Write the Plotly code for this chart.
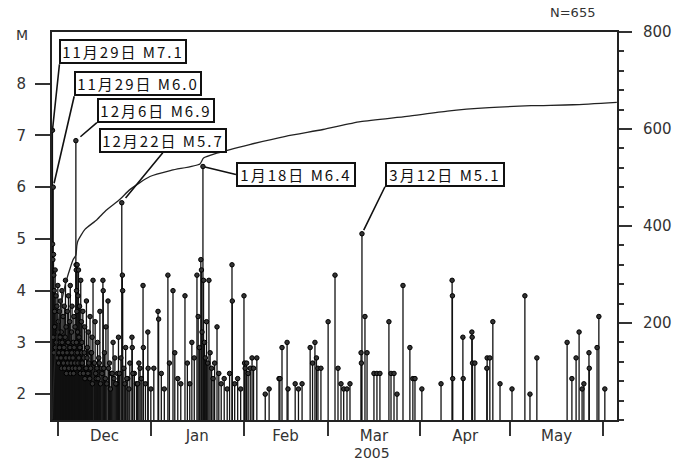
import plotly.graph_objects as go
import pandas as pd

START = pd.Timestamp("2004-11-29")

# Events: days after 2004-11-29 00:00 and magnitude
event_day = [
    0.15, 0.40, 0.20, 0.28, 0.50, 0.60, 0.75, 0.90, 1.05, 1.20, 1.35, 1.50, 1.65, 1.80, 1.95,
    2.10, 2.30, 2.45, 2.60, 2.80, 2.95, 3.10, 3.30, 3.50, 3.70, 3.90, 4.10, 4.30, 4.50, 4.70,
    4.90, 5.10, 5.30, 5.50, 5.70, 5.90, 6.10, 6.30, 6.50, 6.70, 6.90, 7.10, 7.30, 7.50, 7.70,
    7.97, 8.05, 8.10, 8.20, 8.30, 8.40, 8.55, 8.70, 8.85, 9.00, 9.20, 9.40, 9.60, 9.80, 10.0,
    0.35, 0.65, 0.85, 1.10, 1.40, 1.70, 2.00, 2.20, 2.50, 2.70, 3.00, 3.20, 3.40, 3.60, 3.80,
    4.00, 4.20, 4.40, 4.60, 4.80, 5.00, 5.20, 5.40, 5.60, 5.80, 6.00, 6.20, 6.40, 6.60, 6.80,
    7.00, 7.20, 7.40, 7.60, 7.80, 8.15, 8.45, 8.65, 8.95, 9.10, 9.30, 9.50, 9.70, 9.90,
    10.3, 10.6, 10.9, 11.2, 11.5, 11.8, 12.1, 12.4, 12.7, 13.0, 13.4, 13.7, 14.0, 14.4, 14.8,
    15.2, 15.6, 16.0, 16.4, 17.0, 17.1, 17.5, 18.0, 18.7, 19.2, 19.8, 20.4, 21.0, 21.6, 22.2,
    10.1, 10.5, 10.8, 11.0, 11.4, 11.7, 12.0, 12.3, 12.6, 12.9, 13.2, 13.5, 14.2, 14.6, 15.0,
    15.4, 15.8, 16.2, 16.7, 17.3, 17.8, 18.3, 18.9, 19.5, 20.1, 20.7, 21.3, 21.9,
    23.3, 23.5, 23.6, 24.0, 24.6, 25.3, 26.0, 26.7, 26.8, 27.5, 28.2, 29.0, 29.8, 30.4, 30.5,
    31.2, 32.0, 32.1, 33.0, 22.5, 23.0, 24.3, 25.0, 25.7, 27.0, 28.6, 29.4,
    34.0, 35.4, 35.6, 36.5, 37.5, 38.7, 39.2, 40.4, 41.0, 42.0, 43.0, 44.4, 45.2, 46.0, 46.7,
    47.5, 48.4, 48.8, 49.2, 49.7, 49.9, 50.1, 50.4, 50.6, 50.9, 51.2, 51.6, 52.0, 52.4, 52.8,
    53.3, 53.8, 54.3, 55.1, 55.7, 56.5, 57.5, 58.5, 59.3, 60.1, 60.2, 61.0, 62.0, 63.0, 64.1,
    64.3, 64.5, 65.0, 65.5, 66.2, 66.8, 67.3, 68.4, 71.2, 72.5, 75.8, 76.1, 76.8, 78.5, 78.8,
    81.2, 82.3, 83.5, 86.2, 87.0, 87.8, 88.3, 88.8, 89.8,
    92.2, 94.5, 95.5, 96.5, 97.4, 98.5, 99.5, 103.2, 103.3, 103.5, 104.5, 105.2, 107.5, 108.5,
    109.5, 112.5, 113.2, 114.2, 115.2, 117.2, 119.5, 120.5, 121.2, 123.5,
    129.9, 133.6, 133.7, 133.8, 137.2, 137.3, 140.2, 140.3, 140.4, 141.2, 145.2, 145.3, 146.2,
    147.2, 149.6,
    153.6, 157.9, 159.6, 161.9, 172.0, 173.6, 175.0, 176.0, 177.0, 177.6, 179.3, 179.4, 182.0,
    182.6, 184.6,
]
event_mag = [
    7.1, 6.0, 4.9, 4.6, 4.7, 4.3, 4.0, 3.6, 4.4, 3.3, 3.9, 3.1, 3.7, 2.9, 4.1,
    3.4, 2.8, 3.6, 3.0, 3.8, 2.7, 3.2, 4.0, 2.9, 3.5, 3.1, 3.7, 2.8, 4.2, 3.3,
    2.7, 3.6, 3.0, 3.9, 2.8, 3.4, 4.1, 2.9, 3.2, 3.7, 2.6, 3.0, 3.5, 2.8, 3.3,
    6.9, 4.5, 4.4, 4.0, 3.6, 4.5, 3.2, 3.9, 4.4, 3.1, 3.7, 2.9, 4.2, 3.4, 3.0,
    3.1, 2.8, 3.3, 2.9, 3.0, 2.7, 3.2, 2.6, 2.9, 3.1, 2.7, 2.5, 3.0, 2.8, 2.6,
    2.9, 2.5, 3.1, 2.7, 2.4, 2.8, 2.6, 3.0, 2.5, 2.7, 2.9, 2.4, 2.6, 2.8, 2.5,
    2.7, 2.4, 2.9, 2.6, 2.5, 3.0, 2.8, 2.6, 2.7, 2.5, 2.9, 2.4, 2.6, 2.8,
    3.6, 2.7, 3.3, 2.5, 3.8, 2.9, 3.2, 2.4, 3.5, 2.8, 3.1, 4.2, 2.6, 3.4, 2.3,
    3.0, 2.7, 3.6, 2.5, 4.2, 4.0, 2.8, 3.3, 3.8, 2.6, 2.4, 3.0, 2.7, 2.2, 3.1,
    2.6, 2.4, 2.8, 2.3, 2.5, 2.7, 2.4, 2.6, 2.3, 2.5, 2.8, 2.2, 2.6, 2.4, 2.5,
    2.3, 2.6, 2.2, 2.4, 2.5, 2.3, 2.2, 2.5, 2.1, 2.4, 2.3, 2.2, 2.4,
    5.7, 4.3, 4.0, 2.5, 2.9, 2.3, 2.6, 3.1, 2.9, 2.4, 2.2, 2.6, 2.3, 4.1, 2.9,
    2.2, 3.2, 2.5, 2.1, 2.4, 2.7, 2.2, 2.3, 2.1, 2.4, 2.2, 2.5,
    2.5, 3.6, 3.45, 2.4, 2.1, 4.3, 2.6, 4.0, 2.8, 2.3, 2.2, 3.9, 2.6, 2.2, 3.0,
    2.7, 4.3, 3.5, 2.9, 4.6, 4.4, 3.2, 6.4, 4.2, 3.0, 2.7, 3.4, 2.6, 4.2, 2.8,
    2.5, 2.3, 2.6, 3.3, 2.4, 2.2, 2.3, 2.1, 2.4, 4.5, 3.8, 2.2, 2.3, 2.1, 3.9,
    2.6, 2.5, 2.6, 2.4, 2.5, 2.7, 2.5, 2.7, 2.0, 2.1, 2.3, 2.3, 2.9, 3.0, 2.1,
    2.2, 2.1, 2.2, 2.9, 2.6, 3.0, 2.7, 2.5, 2.5,
    3.4, 4.3, 2.5, 2.2, 2.1, 2.1, 2.2, 2.8, 2.6, 5.1, 3.5, 2.8, 2.4, 2.4,
    2.4, 3.4, 2.4, 2.4, 2.0, 4.1, 2.9, 2.3, 2.3, 2.1,
    2.2, 4.2, 3.9, 2.3, 3.1, 2.3, 3.2, 3.1, 2.6, 2.6, 2.5, 2.7, 2.7,
    3.4, 2.2,
    2.1, 3.9, 2.0, 2.7, 3.0, 2.3, 2.7, 3.2, 2.1, 2.2, 2.8, 2.5, 2.9,
    3.5, 2.1,
]

# Cumulative number of events (right axis)
cum_day = [0.15, 0.5, 1, 2, 3, 4, 5, 6, 7, 7.97, 8.3, 8.7, 11, 15, 18, 22.7, 26, 32.7, 40,
           49.4, 50.6, 55, 66, 78, 90.5, 103, 118.5, 132, 146, 160, 174, 188.6]
cum_count = [1, 70, 125, 190, 235, 268, 292, 312, 330, 340, 360, 370, 393, 413, 432, 455, 475,
             502, 515, 528, 540, 550, 568, 585, 599, 615, 626, 637, 644, 648, 650, 655]

# Labelled events
label_text = ["11月29日 M7.1", "11月29日 M6.0", "12月6日 M6.9", "12月22日 M5.7",
              "1月18日 M6.4", "3月12日 M5.1"]
label_day = [0.15, 0.40, 7.97, 23.3, 50.4, 103.5]
label_mag = [7.1, 6.0, 6.9, 5.7, 6.4, 5.1]

month_tick0 = "2004-12-01"
mag_ticks = [2, 3, 4, 5, 6, 7, 8]
count_ticks = [200, 400, 600, 800]
total_events = 655
year_label = "2005"

ev_t = START + pd.to_timedelta(event_day, unit="D")
cum_t = START + pd.to_timedelta(cum_day, unit="D")
lab_t = START + pd.to_timedelta(label_day, unit="D")

BASE = 1.5
xs, ys = [], []
for t, m in zip(ev_t, event_mag):
    xs += [t, t, None]
    ys += [BASE, m, None]

fig = go.Figure()
fig.add_trace(go.Scatter(x=xs, y=ys, mode="lines", line=dict(color="#111", width=1.3),
                         hoverinfo="skip", showlegend=False))
fig.add_trace(go.Scatter(x=ev_t, y=event_mag, mode="markers",
                         marker=dict(symbol="circle", size=4.5, color="#333",
                                     line=dict(color="#000", width=1)),
                         showlegend=False))
fig.add_trace(go.Scatter(x=cum_t, y=cum_count, mode="lines", yaxis="y2",
                         line=dict(color="#222", width=1.3, shape="spline", smoothing=0.6),
                         showlegend=False))

# annotation layout: (ax, ay, xanchor, yanchor, standoff, box width)
ann_layout = [
    (7, -66, "left", "bottom", 0, 122),
    (21, -91, "left", "bottom", 4, 122),
    (21, -18, "left", "bottom", 6, 112),
    (41, -50, "center", "bottom", 6, 122),
    (33, 8, "left", "middle", 2, 114),
    (23, -47, "left", "bottom", 4, 114),
]
anns = []
for txt, t, m, (ax, ay, xa, ya, so, w) in zip(label_text, lab_t, label_mag, ann_layout):
    anns.append(dict(x=t, y=m, xref="x", yref="y",
                     text=f'<span style="letter-spacing:2px">{txt}</span>',
                     showarrow=True, width=w, height=19,
                     ax=ax, ay=ay, xanchor=xa, yanchor=ya, arrowhead=0,
                     arrowwidth=1.6, arrowcolor="#111", standoff=so,
                     bgcolor="white", bordercolor="#111", borderwidth=2, borderpad=1,
                     font=dict(family="Noto Sans CJK JP", size=15, color="#111")))

anns.append(dict(x=1.0, y=1.0, xref="paper", yref="paper", xanchor="right", yanchor="bottom",
                 xshift=-20, yshift=10, text=f"N={total_events}", showarrow=False,
                 font=dict(family="DejaVu Sans", size=13, color="#333")))
anns.append(dict(x=0, y=1.0, xref="paper", yref="paper", xanchor="center", yanchor="middle",
                 xshift=-30, yshift=-3, text="M", showarrow=False,
                 font=dict(family="DejaVu Sans", size=14, color="#333")))
anns.append(dict(x="2005-03-16", y=0, xref="x", yref="paper", xanchor="center", yanchor="middle",
                 yshift=-33, text=year_label, showarrow=False,
                 font=dict(family="DejaVu Sans", size=14, color="#333")))

fig.update_layout(
    width=688, height=462,
    margin=dict(l=52, r=71, t=32, b=42),
    paper_bgcolor="white", plot_bgcolor="white",
    font=dict(family="DejaVu Sans", size=15, color="#333"),
    annotations=anns,
    xaxis=dict(
        type="date",
        range=[START, START + pd.Timedelta(days=188.66)],
        tick0=month_tick0, dtick="M1", tickformat="%b", ticklabelmode="period",
        ticks="outside", ticklen=14, tickwidth=1.5, tickcolor="#333",
        ticklabelstandoff=-13,
        showline=True, linewidth=2, linecolor="#222", mirror=True,
        showgrid=False, zeroline=False,
    ),
    yaxis=dict(
        range=[BASE, 9], tickvals=mag_ticks,
        ticks="outside", ticklen=15, tickwidth=1.5, tickcolor="#333",
        ticklabelstandoff=6,
        showline=True, linewidth=2, linecolor="#222",
        showgrid=False, zeroline=False,
    ),
    yaxis2=dict(
        range=[0, 800], tickvals=count_ticks, overlaying="y", side="right",
        ticks="outside", ticklen=13, tickwidth=1.5, tickcolor="#333",
        minor=dict(dtick=40, ticks="outside", ticklen=5, tickcolor="#333"),
        ticklabelstandoff=8,
        showline=True, linewidth=2, linecolor="#222",
        showgrid=False, zeroline=False,
    ),
)

fig.write_html("out.html")
